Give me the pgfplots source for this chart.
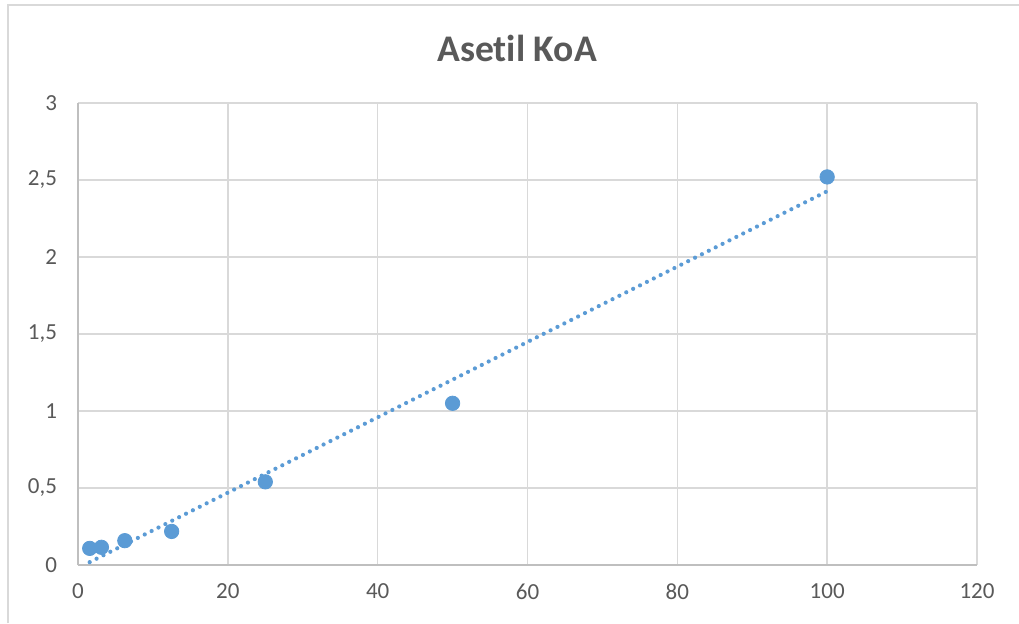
\documentclass[border=0pt]{standalone}
\usepackage{pgfplots}
\pgfplotsset{compat=1.18}
\usepackage{fontspec}
\setmainfont{Carlito}[Ligatures={NoCommon}]
\definecolor{ptblue}{HTML}{5B9BD5}
\definecolor{gridgray}{HTML}{D9D9D9}
\definecolor{axgray}{HTML}{BFBFBF}
\definecolor{txtgray}{HTML}{595959}
\begin{document}
\begin{tikzpicture}
\useasboundingbox (0,0) rectangle (509.5pt,311.5pt);
\draw[gridgray, line width=0.8pt] (4pt,0pt) -- (4pt,309pt) -- (509.5pt,309pt);
\node[font=\fontsize{18.8pt}{22pt}\selectfont\bfseries, text=txtgray] at (258.5pt,287.5pt) {Asetil KoA};
\begin{axis}[
  at={(39pt,29pt)}, anchor=south west,
  scale only axis, width=449.5pt, height=231pt,
  xmin=0, xmax=120, ymin=0, ymax=3,
  xtick={0,20,40,60,80,100,120},
  xticklabels={0,20,40,60,80,100,120},
  ytick={0,0.5,1,1.5,2,2.5,3},
  yticklabels={0,{0,5},1,{1,5},2,{2,5},3},
  grid=major,
  major grid style={gridgray, line width=0.8pt},
  axis line style={axgray, line width=0.8pt},
  axis x line*=bottom, axis y line*=left,
  tick style={draw=none},
  ticklabel style={font=\fontsize{11.5pt}{13pt}\selectfont, text=txtgray},
  xticklabel style={yshift=-6pt},
  yticklabel style={xshift=-7pt},
  clip=false,
]
\addplot[ptblue, line width=2.1pt, line cap=round, dash pattern=on 0pt off 3.85pt]
  coordinates {(1.5625,0.0185) (100,2.427)};
\addplot[only marks, mark=*, mark size=3.6pt, mark options={fill=ptblue, draw=ptblue}]
  coordinates {
  (1.5625,0.108)
  (3.125,0.115)
  (6.25,0.158)
  (12.5,0.218)
  (25,0.54)
  (50,1.05)
  (100,2.52)
  };
\end{axis}
\end{tikzpicture}
\end{document}
